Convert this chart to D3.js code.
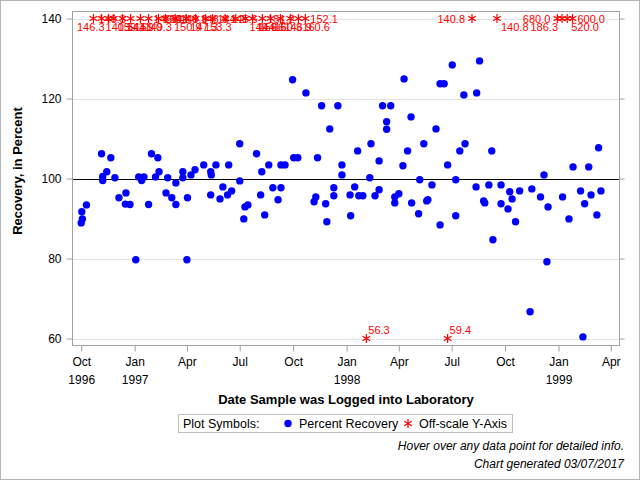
<!DOCTYPE html>
<html><head><meta charset="utf-8">
<script src="https://cdn.jsdelivr.net/npm/d3@7"></script>
<style>
body{margin:0;background:#fff}
svg{display:block}
text{font-family:"Liberation Sans",Arial,sans-serif}
</style>
</head><body>
<svg id="c" width="640" height="480"></svg>
<script>
// ---- data ----
const recDates = ["1996-10-01","1996-10-02","1996-10-03","1996-10-10","1996-11-05","1996-11-07","1996-11-07","1996-11-14","1996-11-21","1996-11-28",
"1996-12-05","1996-12-16","1996-12-17","1996-12-24","1997-01-03","1997-01-08","1997-01-13","1997-01-17","1997-01-25","1997-01-30",
"1997-02-06","1997-02-10","1997-02-12","1997-02-24","1997-02-27","1997-03-06","1997-03-13","1997-03-13","1997-03-25","1997-03-25",
"1997-04-01","1997-04-02","1997-04-08","1997-04-15","1997-04-30","1997-05-12","1997-05-13","1997-05-12","1997-05-21","1997-05-28",
"1997-06-02","1997-06-10","1997-06-12","1997-06-17","1997-07-01","1997-07-01","1997-07-08","1997-07-10","1997-07-15","1997-07-30",
"1997-08-06","1997-08-08","1997-08-13","1997-08-20","1997-08-27","1997-09-05","1997-09-10","1997-09-10","1997-09-17","1997-09-30",
"1997-10-02","1997-10-09","1997-10-23","1997-11-06","1997-11-09","1997-11-12","1997-11-19","1997-11-26","1997-11-28","1997-12-03",
"1997-12-10","1997-12-10","1997-12-17","1997-12-24","1997-12-24","1998-01-07","1998-01-08","1998-01-15","1998-01-20","1998-01-22",
"1998-01-29","1998-02-10","1998-02-12","1998-02-19","1998-02-26","1998-02-26","1998-03-04","1998-03-11","1998-03-11","1998-03-18",
"1998-03-25","1998-03-25","1998-04-01","1998-04-08","1998-04-10","1998-04-16","1998-04-22","1998-04-23","1998-05-05","1998-05-07",
"1998-05-14","1998-05-19","1998-05-21","1998-05-28","1998-06-04","1998-06-11","1998-06-11","1998-06-18","1998-06-24","1998-07-02",
"1998-07-08","1998-07-08","1998-07-15","1998-07-22","1998-07-24","1998-08-12","1998-08-13","1998-08-18","1998-08-25","1998-08-27",
"1998-09-03","1998-09-08","1998-09-10","1998-09-24","1998-09-24","1998-10-06","1998-10-09","1998-10-13","1998-10-19","1998-10-26",
"1998-11-13","1998-11-16","1998-12-01","1998-12-07","1998-12-12","1998-12-14","1999-01-08","1999-01-19","1999-01-26","1999-02-08",
"1999-02-12","1999-02-15","1999-02-22","1999-02-26","1999-03-08","1999-03-11","1999-03-15"];
const recValues = [88.9,91.7,89.9,93.4,106.2,100.5,99.5,101.7,105.2,100.2,
95.2,93.6,96.4,93.5,79.7,100.4,99.5,100.4,93.5,106.2,
100.4,105.2,101.7,96.4,100.2,95.2,98.9,93.5,101.7,100.2,
79.7,95.2,100.9,102.2,103.4,101.7,100.9,95.9,103.4,94.9,
97.9,95.9,103.4,96.9,108.7,99.4,89.9,92.9,93.4,106.2,
95.9,101.7,90.9,103.4,97.7,94.7,103.4,97.7,103.4,124.7,
105.2,105.2,121.4,94.2,95.4,105.2,118.2,93.7,89.2,112.4,
97.7,95.7,118.2,103.4,100.9,95.9,90.7,97.9,106.9,95.7,
95.7,100.2,108.7,95.7,104.4,97.2,118.2,114.2,112.3,118.2,
95.4,93.9,96.2,103.2,124.9,106.9,115.4,93.9,91.2,99.7,
108.7,94.4,94.7,98.4,112.4,123.7,88.4,123.7,103.4,128.4,
99.7,90.7,106.9,120.9,108.7,97.9,121.4,129.4,94.4,93.9,
98.4,106.9,84.7,98.4,93.7,92.4,96.7,94.9,89.2,96.9,
66.7,97.4,95.4,100.9,79.2,92.9,95.4,89.9,102.9,96.9,
60.4,93.7,102.9,95.9,90.9,107.7,96.9];

// off-scale observations (actual values; drawn at the axis limit)
const offDates = ["1996-10-22","1996-11-05","1996-11-17","1996-11-26","1996-12-11","1996-12-25","1997-01-11","1997-01-25","1997-02-11","1997-02-23",
"1997-03-12","1997-03-31","1997-04-16","1997-05-03","1997-05-15","1997-06-06","1997-06-24","1997-07-11","1997-07-23","1997-08-09",
"1997-08-23","1997-09-09","1997-09-26","1997-10-10","1997-10-22",
"1998-08-05","1998-09-17","1998-12-30","1999-01-07","1999-01-16","1999-01-25",
"1998-02-04","1998-06-24"];
const offValues = [149.3,140.5,146.3,159.4,143.9,151.0,149.3,146.9,150.4,141.6,
149.9,147.3,148.6,150.9,144.2,145.6,153.3,149.9,144.6,151.2,
150.3,146.9,156.6,160.6,152.1,
140.8,140.8,680.0,186.3,520.0,600.0,
56.3,59.4];

const tickDates = ["1996-10-01","1997-01-01","1997-04-01","1997-07-01","1997-10-01","1998-01-01","1998-04-01","1998-07-01","1998-10-01","1999-01-01","1999-04-01"];
const tickMonths = ["Oct","Jan","Apr","Jul","Oct","Jan","Apr","Jul","Oct","Jan","Apr"];
const tickYears = ["1996","1997","","","","1998","","","","1999",""];
const yTicks = [60,80,100,120,140];
const yLimits = [60,140];
const refValue = 100;

// ---- drawing ----
const parse = d3.timeParse("%Y-%m-%d");
const svg = d3.select("#c");
const L = 72.5, R = 619.5, T = 11.5, B = 345.5;

svg.append("rect").attr("x",0.5).attr("y",0.5).attr("width",639).attr("height",479)
  .attr("fill","#fff").attr("stroke","#b4b4b4");

const x = d3.scaleTime().domain([new Date(1996,8,16), new Date(1999,3,16)]).range([L, R]);
const y = d3.scaleLinear().domain([58.25, 141.75]).range([B, T]);

// gridlines
svg.append("g").selectAll("line").data(yTicks.filter(v=>v!==refValue)).join("line")
  .attr("x1",L).attr("x2",R).attr("y1",d=>Math.round(y(d))+0.5).attr("y2",d=>Math.round(y(d))+0.5)
  .attr("stroke","#e3e3e3").attr("stroke-width",1);
svg.append("line").attr("x1",L).attr("x2",R)
  .attr("y1",Math.round(y(refValue))+0.5).attr("y2",Math.round(y(refValue))+0.5)
  .attr("stroke","#000").attr("stroke-width",1);

// axes
const xAxis = d3.axisBottom(x).tickValues(tickDates.map(parse)).tickSize(6).tickPadding(6)
  .tickFormat((d,i)=>tickMonths[i]);
const gx = svg.append("g").attr("transform",`translate(0,${B})`).call(xAxis);
gx.select(".domain").remove();
gx.selectAll(".tick line").attr("stroke","#a0a0a0");
gx.selectAll(".tick text").attr("font-size",12).attr("fill","#000")
  .style("font-family",'"Liberation Sans",Arial,sans-serif')
  .each(function(d,i){
    if (tickYears[i]) d3.select(this).append("tspan").attr("x",0).attr("dy","1.5em").text(tickYears[i]);
  });

const yAxis = d3.axisLeft(y).tickValues(yTicks).tickSize(6).tickPadding(5);
const gy = svg.append("g").attr("transform",`translate(${L},0)`).call(yAxis);
gy.select(".domain").remove();
gy.selectAll(".tick line").attr("stroke","#a0a0a0");
gy.selectAll(".tick text").attr("font-size",12).attr("fill","#000")
  .style("font-family",'"Liberation Sans",Arial,sans-serif');

const gy2 = svg.append("g").attr("transform",`translate(${R},0)`).call(d3.axisRight(y).tickValues(yTicks).tickSize(5).tickFormat(""));
gy2.select(".domain").remove();
gy2.selectAll(".tick line").attr("stroke","#a0a0a0");

// frame
svg.append("rect").attr("x",L).attr("y",T).attr("width",R-L).attr("height",B-T)
  .attr("fill","none").attr("stroke","#a0a0a0");

// blue points
const rec = recDates.map((d,i)=>({date:parse(d), v:recValues[i]}));
svg.append("g").selectAll("circle").data(rec).join("circle")
  .attr("cx",d=>x(d.date)).attr("cy",d=>y(d.v)).attr("r",3.7).attr("fill","#0000ff");

// off-scale markers
const star = d3.symbol().type(d3.symbolAsterisk).size(55);
const off = offDates.map((d,i)=>{
  const v = offValues[i];
  const lim = v > yLimits[1] ? yLimits[1] : yLimits[0];
  return {date:parse(d), v, high: v > yLimits[1], mx: x(parse(d)), my: y(lim)};
});
svg.append("g").selectAll("path").data(off).join("path")
  .attr("transform",d=>`translate(${d.mx},${d.my})`).attr("d",star)
  .attr("fill","none").attr("stroke","#ff0000").attr("stroke-width",1.2);

// off-scale labels with simple collision-avoiding placement
const fmt = d3.format(".1f");
const lg = svg.append("g");
const measure = lg.append("text").attr("font-size",11).attr("x",-100).attr("y",-100);
function textW(s){ measure.text(s); return measure.node().getComputedTextLength(); }
const markerBoxes = off.map(d=>({x0:d.mx-4,x1:d.mx+4,y0:d.my-4,y1:d.my+4,own:d}));
const placed = [];
function ov(a,b){const w=Math.min(a.x1,b.x1)-Math.max(a.x0,b.x0);const h=Math.min(a.y1,b.y1)-Math.max(a.y0,b.y0);return (w>0&&h>0)?w*h:0;}
const order = off.filter(d=>d.high).sort((a,b)=>b.v-a.v);
let fallbackCount = 0;
order.forEach(d=>{
  const s = fmt(d.v), w = textW(s);
  const cands = [
    {anchor:"start", tx:d.mx+5, by:d.my+4},
    {anchor:"end",   tx:d.mx-7, by:d.my+4},
    {anchor:"start", tx:d.mx+4, by:d.my+12},
    {anchor:"end",   tx:d.mx-4, by:d.my+12}
  ];
  const scored = cands.map(c=>{
    const x0 = c.anchor==="start"?c.tx:c.tx-w;
    const box = {x0, x1:x0+w, y0:c.by-8, y1:c.by};
    let sc = 0;
    if (box.x0 < L + 2 || box.x1 > R - 2) sc += 1e6;
    placed.forEach(p=>sc+=ov(box,p));
    markerBoxes.forEach(m=>{ if(m.own!==d) sc+=ov(box,m); });
    return {c, box, sc};
  });
  // first free position; if none is free, alternate between right-above and right-below
  let best = scored.find(o=>o.sc===0);
  if (!best) { best = (fallbackCount % 2 === 0) ? scored[0] : scored[2]; fallbackCount++; }
  placed.push(best.box);
  d.label = {s, ...best.c};
});
off.filter(d=>!d.high).forEach(d=>{ d.label = {s:fmt(d.v), anchor:"start", tx:d.mx+2, by:d.my-5}; });
measure.remove();
lg.selectAll("text").data(off).join("text")
  .attr("x",d=>d.label.tx).attr("y",d=>d.label.by).attr("text-anchor",d=>d.label.anchor)
  .attr("font-size",11).attr("fill","#ff0000").text(d=>d.label.s);

// titles
svg.append("text").attr("transform","translate(22,171) rotate(-90)").attr("text-anchor","middle")
  .attr("font-size",13).attr("font-weight","bold").attr("fill","#000").text("Recovery, in Percent");
svg.append("text").attr("x",(L+R)/2).attr("y",404).attr("text-anchor","middle")
  .attr("font-size",13).attr("font-weight","bold").attr("fill","#000").text("Date Sample was Logged into Laboratory");

// legend
const leg = svg.append("g");
leg.append("rect").attr("x",178.5).attr("y",414.5).attr("width",334).attr("height",18)
  .attr("fill","#fff").attr("stroke","#c0c0c0");
leg.append("text").attr("x",183).attr("y",428).attr("font-size",12.5).attr("fill","#000").text("Plot Symbols:");
leg.append("circle").attr("cx",288).attr("cy",423.5).attr("r",3.7).attr("fill","#0000ff");
leg.append("text").attr("x",299).attr("y",428).attr("font-size",12.5).attr("fill","#000").text("Percent Recovery");
leg.append("path").attr("transform","translate(408,423.5)").attr("d",star)
  .attr("fill","none").attr("stroke","#ff0000").attr("stroke-width",1.2);
leg.append("text").attr("x",419).attr("y",428).attr("font-size",12.5).attr("fill","#000").text("Off-scale Y-Axis");

// footnotes
svg.append("text").attr("x",624).attr("y",450).attr("text-anchor","end").attr("font-size",12)
  .attr("font-style","italic").attr("fill","#000").text("Hover over any data point for detailed info.");
svg.append("text").attr("x",624).attr("y",468).attr("text-anchor","end").attr("font-size",12)
  .attr("font-style","italic").attr("fill","#000").text("Chart generated 03/07/2017");
</script>
</body></html>
